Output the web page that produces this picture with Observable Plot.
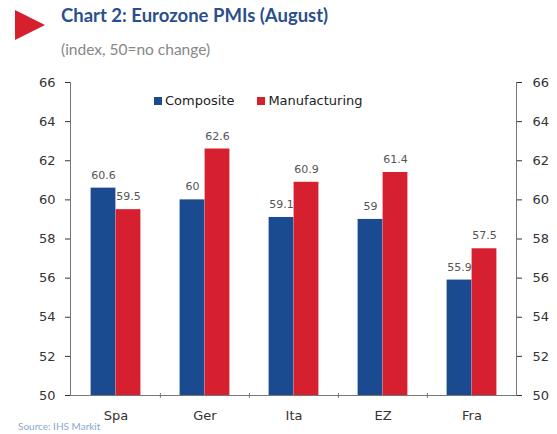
<!DOCTYPE html>
<html>
<head>
<meta charset="utf-8">
<script src="https://cdn.jsdelivr.net/npm/d3@7"></script>
<script src="https://cdn.jsdelivr.net/npm/@observablehq/plot@0.6"></script>
<style>
  html, body { margin: 0; padding: 0; background: #fff; overflow: hidden; }
  #wrap { position: relative; width: 557px; height: 434px; font-family: "DejaVu Sans", sans-serif; }
  #tri { position: absolute; left: 15px; top: 10px; }
  #title { position: absolute; left: 61px; top: 4px; font-family: Lato, "Open Sans", sans-serif; font-weight: bold; font-size: 18.5px; color: #2b4f8e; }
  #subtitle { position: absolute; left: 61px; top: 40px; font-family: Lato, "Open Sans", sans-serif; font-size: 15.5px; color: #888; }
  #chart { position: absolute; left: 0; top: 62px; }
  #legend { position: absolute; top: 93px; left: 154px; font-size: 13px; color: #222; display: flex; align-items: center; }
  #legend span.sw { display: inline-block; width: 8px; height: 8px; margin-right: 3px; }
  #legend .item { display: flex; align-items: center; margin-right: 23px; }
  #source { position: absolute; left: 18px; top: 420px; font-size: 10px; line-height: 12px; color: #8aa8cc; font-family: Lato, sans-serif; }
</style>
</head>
<body>
<div id="wrap">
  <svg id="tri" width="32" height="32"><polygon points="0,0 30,15 0,30" fill="#d7202e"/></svg>
  <div id="title">Chart 2: Eurozone PMIs (August)</div>
  <div id="subtitle">(index, 50=no change)</div>
  <div id="chart"></div>
  <div id="legend"></div>
  <div id="source">Source: IHS Markit</div>
</div>
<script>
const countries = ["Spa", "Ger", "Ita", "EZ", "Fra"];
const composite = [60.6, 60, 59.1, 59, 55.9];
const manufacturing = [59.5, 62.6, 60.9, 61.4, 57.5];
const seriesNames = ["Composite", "Manufacturing"];
const seriesColors = ["#1a4a8f", "#d6202f"];
const yTicks = [50, 52, 54, 56, 58, 60, 62, 64, 66];

const compData = countries.map((c, i) => ({country: c, value: composite[i]}));
const manData = countries.map((c, i) => ({country: c, value: manufacturing[i]}));

const W = 557, H = 372, mL = 70, mR = 41, mT = 20, mB = 39;
const bw = (W - mL - mR) / countries.length;
const barW = 25;

const chart = Plot.plot({
  width: W, height: H,
  marginLeft: mL, marginRight: mR, marginTop: mT, marginBottom: mB,
  style: {fontFamily: "'DejaVu Sans', sans-serif", fontSize: "13px", color: "#333", background: "#fff"},
  x: {domain: countries, padding: 0, label: null},
  y: {domain: [50, 66], label: null},
  marks: [
    Plot.barY(compData, {x: "country", y1: 50, y2: "value", fill: seriesColors[0], insetLeft: bw/2 - barW, insetRight: bw/2}),
    Plot.barY(manData, {x: "country", y1: 50, y2: "value", fill: seriesColors[1], insetLeft: bw/2, insetRight: bw/2 - barW}),
    Plot.text(compData, {x: "country", y: "value", text: d => String(d.value), dx: -barW/2, dy: -13, fill: "#555", fontSize: 11}),
    Plot.text(manData, {x: "country", y: "value", text: d => String(d.value), dx: barW/2, dy: -13, fill: "#555", fontSize: 11}),
    Plot.axisY({anchor: "left", ticks: yTicks, tickSize: 5, tickPadding: 10, fontSize: 13, color: "#333"}),
    Plot.axisY({anchor: "right", ticks: yTicks, tickSize: 5, tickPadding: 11, fontSize: 13, color: "#333"}),
    Plot.frame({anchor: "left", stroke: "#777"}),
    Plot.frame({anchor: "right", stroke: "#777"}),
    Plot.ruleY([50], {stroke: "#777"}),
    Plot.ruleX(countries.slice(1), {x: d => d, y1: 49.85, y2: 50.1, dx: -bw/2, stroke: "#777"}),
    Plot.axisX({tickSize: 0, tickPadding: 15, fontSize: 13, color: "#333"})
  ]
});
document.getElementById("chart").appendChild(chart);

const legend = document.getElementById("legend");
seriesNames.forEach((n, i) => {
  const it = document.createElement("div");
  it.className = "item";
  it.innerHTML = `<span class="sw" style="background:${seriesColors[i]}"></span>${n}`;
  legend.appendChild(it);
});
</script>
</body>
</html>
